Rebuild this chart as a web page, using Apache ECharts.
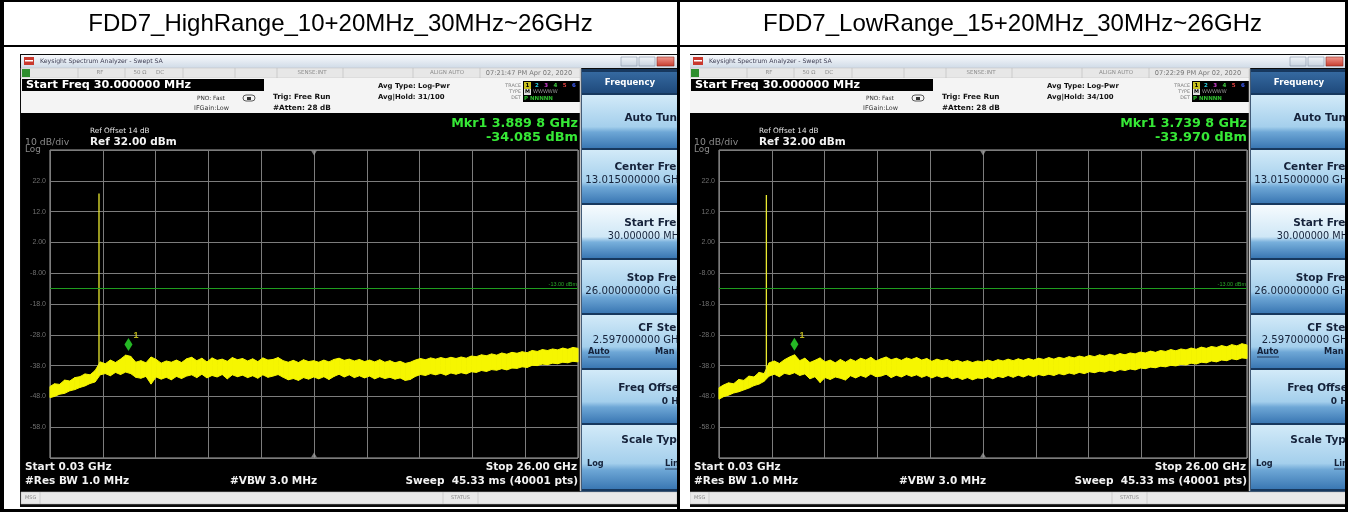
<!DOCTYPE html>
<html><head><meta charset="utf-8">
<script src="https://cdn.jsdelivr.net/npm/echarts/dist/echarts.min.js"></script>
<style>html,body{margin:0;padding:0;background:#fff}#c{width:1348px;height:512px}</style>
</head><body><div id="c"></div><script>
// ---------------- data ----------------
const titles = ['FDD7_HighRange_10+20MHz_30MHz~26GHz', 'FDD7_LowRange_15+20MHz_30MHz~26GHz'];
const timestamps = ['07:21:47 PM Apr 02, 2020', '07:22:29 PM Apr 02, 2020'];
const avgHold = ['Avg|Hold: 31/100', 'Avg|Hold: 34/100'];
const mkrFreqText = ['Mkr1 3.889 8 GHz', 'Mkr1 3.739 8 GHz'];
const mkrAmpText = ['-34.085 dBm', '-33.970 dBm'];
const markerGHz = [3.8898, 3.7398];
const markerDbm = [-34.085, -33.970];
const spikeGHz = [2.44, 2.36];
const spikeTopDbm = [17.9, 17.4];
const spikeBaseDbm = [-40.5, -41.0];
const displayLineDbm = -13;
const centerGHz = 13.015;
const startGHz = 0.03, stopGHz = 26;
const refDbm = 32, bottomDbm = -68;
const yTickValues = [22, 12, 2, -8, -18, -28, -38, -48, -58];
const yTickLabels = ['22.0', '12.0', '2.00', '-8.00', '-18.0', '-28.0', '-38.0', '-48.0', '-58.0'];

const freqGHz = [0.03,0.25,0.5,0.75,1,1.25,1.5,1.75,2,2.25,2.5,2.75,3,3.25,3.5,3.75,4,4.25,4.5,4.75,5,5.25,5.5,5.75,6,6.25,6.5,6.75,7,7.25,7.5,7.75,8,8.25,8.5,8.75,9,9.25,9.5,9.75,10,10.25,10.5,10.75,11,11.25,11.5,11.75,12,12.25,12.5,12.75,13,13.25,13.5,13.75,14,14.25,14.5,14.75,15,15.25,15.5,15.75,16,16.25,16.5,16.75,17,17.25,17.5,17.75,18,18.25,18.5,18.75,19,19.25,19.5,19.75,20,20.25,20.5,20.75,21,21.25,21.5,21.75,22,22.25,22.5,22.75,23,23.25,23.5,23.75,24,24.25,24.5,24.75,25,25.25,25.5,25.75,26];

const hiUpper = [-44.8,-43.9,-44.1,-42.7,-43.0,-41.9,-41.6,-40.7,-41.0,-39.6,-36.8,-37.4,-36.2,-37.0,-35.9,-34.6,-35.0,-36.9,-36.4,-37.1,-35.2,-36.0,-37.2,-36.5,-36.9,-36.2,-37.0,-35.8,-35.3,-36.4,-35.6,-36.8,-35.5,-36.3,-35.9,-36.6,-35.4,-36.1,-35.7,-36.5,-35.8,-36.7,-35.5,-36.2,-36.0,-35.4,-36.4,-36.9,-36.3,-37.0,-36.1,-36.7,-36.4,-36.9,-36.2,-36.8,-36.0,-35.6,-36.3,-35.9,-36.5,-36.0,-36.7,-36.2,-36.8,-36.1,-36.9,-36.4,-37.1,-36.6,-37.3,-36.9,-36.2,-35.7,-36.1,-35.5,-35.9,-35.4,-35.8,-35.3,-35.7,-35.2,-35.6,-34.9,-35.1,-34.5,-34.8,-34.2,-34.6,-33.9,-34.3,-33.7,-34.0,-33.5,-33.8,-33.1,-33.4,-32.8,-33.1,-32.6,-32.9,-32.3,-32.7,-32.1,-32.4];
const hiLower = [-48.4,-48.0,-47.3,-47.0,-46.2,-45.8,-45.1,-44.6,-43.8,-43.3,-41.0,-40.6,-41.3,-40.2,-40.9,-40.1,-40.6,-41.8,-42.1,-41.5,-44.0,-41.7,-42.4,-41.8,-42.6,-41.5,-42.2,-41.4,-41.0,-41.9,-40.8,-42.0,-41.2,-41.7,-40.9,-42.3,-41.0,-41.6,-41.1,-41.9,-41.3,-42.1,-41.0,-41.8,-41.4,-40.9,-41.8,-42.6,-42.2,-42.8,-41.9,-42.4,-41.7,-42.3,-41.6,-42.5,-41.5,-40.8,-41.7,-41.0,-41.9,-41.3,-42.0,-41.4,-42.3,-41.6,-42.2,-41.8,-42.4,-42.0,-42.8,-42.5,-41.5,-40.9,-41.2,-40.6,-41.0,-40.5,-41.1,-40.4,-40.8,-40.3,-40.7,-40.0,-40.2,-39.6,-39.9,-39.3,-39.5,-39.0,-39.4,-38.8,-38.9,-38.4,-38.6,-37.9,-38.0,-37.5,-37.7,-37.2,-37.4,-36.9,-37.1,-36.6,-36.8];

const loUpper = [-45.2,-44.3,-43.6,-43.9,-42.5,-42.8,-41.4,-41.7,-40.2,-40.6,-37.1,-36.5,-37.3,-36.1,-35.2,-34.5,-36.4,-35.6,-37.0,-36.3,-35.5,-36.8,-36.2,-37.1,-36.0,-36.9,-35.9,-36.6,-35.6,-36.2,-35.3,-36.5,-35.8,-35.2,-36.1,-35.6,-36.3,-35.5,-36.0,-35.4,-36.2,-35.7,-36.6,-35.9,-36.4,-36.0,-36.8,-36.3,-36.9,-36.4,-37.0,-36.5,-36.8,-36.2,-36.7,-36.1,-36.5,-35.9,-36.4,-35.8,-36.3,-35.7,-36.2,-35.6,-36.0,-35.4,-35.9,-35.3,-35.7,-35.1,-35.5,-34.9,-35.3,-34.7,-35.1,-34.5,-34.9,-34.3,-34.7,-34.1,-34.5,-33.9,-34.2,-33.6,-33.9,-33.3,-33.7,-33.1,-33.4,-32.8,-33.2,-32.6,-32.9,-32.3,-32.7,-32.0,-32.4,-31.8,-32.1,-31.5,-31.9,-31.2,-31.6,-30.9,-31.3];
const loLower = [-48.9,-48.1,-47.6,-46.9,-46.5,-45.9,-45.3,-44.5,-44.0,-43.1,-41.4,-40.8,-41.6,-40.5,-40.9,-40.3,-41.2,-40.7,-42.3,-41.6,-43.5,-41.9,-42.5,-41.7,-42.1,-42.7,-41.3,-42.0,-41.2,-41.8,-40.7,-41.6,-41.4,-40.8,-41.9,-41.1,-41.7,-40.9,-41.5,-41.0,-41.8,-41.2,-42.0,-41.3,-41.9,-41.4,-42.3,-41.8,-42.5,-41.9,-42.6,-42.0,-42.2,-41.6,-42.3,-41.5,-41.9,-41.2,-41.8,-41.1,-41.7,-41.0,-41.6,-40.9,-41.3,-40.8,-41.2,-40.6,-41.0,-40.4,-40.8,-40.2,-40.6,-40.0,-40.3,-39.8,-40.1,-39.5,-39.9,-39.3,-39.6,-39.1,-39.4,-38.8,-39.0,-38.5,-38.7,-38.2,-38.4,-37.9,-38.1,-37.6,-37.8,-37.2,-37.5,-36.9,-37.1,-36.5,-36.8,-36.2,-36.4,-35.8,-36.1,-35.5,-35.7];

const uppers = [hiUpper, loUpper];
const lowers = [hiLower, loLower];

// ---------------- helpers ----------------
const FONT = '"DejaVu Sans", Verdana, sans-serif';
const TFONT = '"Liberation Sans", Arial, sans-serif';
const PX = [0, 669]; // horizontal offset of each screenshot
function T(x, y, text, s, c, o) {
  o = o || {};
  return {type: 'text', x: x, y: y, z: o.z != null ? o.z : 20, silent: true,
    style: {text: text, fill: c, font: (o.b ? 'bold ' : '') + s + 'px ' + (o.f || FONT),
      align: o.a || 'left', verticalAlign: 'middle'}};
}
function R(x, y, w, h, fill, o) {
  o = o || {};
  return {type: 'rect', silent: true, z: o.z != null ? o.z : -10,
    shape: {x: x, y: y, width: w, height: h},
    style: {fill: fill, stroke: o.s || null, lineWidth: o.lw || 0}};
}
function L(x1, y1, x2, y2, c, w, z) {
  return {type: 'line', silent: true, z: z != null ? z : -9,
    shape: {x1: x1, y1: y1, x2: x2, y2: y2}, style: {stroke: c, lineWidth: w || 1}};
}
function G(stops) {
  return {type: 'linear', x: 0, y: 0, x2: 0, y2: 1,
    colorStops: stops.map(s => ({offset: s[0], color: s[1]}))};
}

function panelEls(i) {
  const o = PX[i];
  const e = [];
  // screenshot frame
  e.push(R(o + 20, 54, 658, 453, '#0b0b0b'));
  // window title bar
  e.push(R(o + 21, 55, 656, 13, G([[0, '#f7f9fc'], [1, '#d0dbe7']])));
  e.push(R(o + 24, 57, 10, 8, '#c9392e', {z: -9}));
  e.push(R(o + 25, 60, 8, 1.5, '#fff', {z: -8}));
  e.push(T(o + 40, 61.5, 'Keysight Spectrum Analyzer - Swept SA', 6.2, '#3c3c52'));
  e.push(R(o + 621, 57, 16, 9, G([[0, '#f2f5f9'], [1, '#c6d2df']]), {s: '#8796a8', lw: 0.6, z: -9}));
  e.push(R(o + 639, 57, 16, 9, G([[0, '#f2f5f9'], [1, '#c6d2df']]), {s: '#8796a8', lw: 0.6, z: -9}));
  e.push(R(o + 657, 57, 17, 9, G([[0, '#f29a90'], [1, '#c63a2c']]), {s: '#8a2a20', lw: 0.6, z: -9}));
  // status row
  e.push(R(o + 21, 68, 560, 10, '#e7e7e7', {s: '#bcbcbc', lw: 0.5}));
  e.push(R(o + 22, 69, 8, 8, '#2f8f2f', {z: -9}));
  [78, 125, 183, 235, 277, 343, 413, 480].forEach(x => e.push(L(o + x, 68, o + x, 78, '#b8b8b8', 0.6)));
  e.push(T(o + 100, 73, 'RF', 5.5, '#8d8d8d', {a: 'center'}));
  e.push(T(o + 140, 73, '50 Ω', 5.5, '#8d8d8d', {a: 'center'}));
  e.push(T(o + 160, 73, 'DC', 5.5, '#8d8d8d', {a: 'center'}));
  e.push(T(o + 312, 73, 'SENSE:INT', 5.5, '#8d8d8d', {a: 'center'}));
  e.push(T(o + 447, 73, 'ALIGN AUTO', 5.5, '#8d8d8d', {a: 'center'}));
  e.push(T(o + 529, 73, timestamps[i], 6.6, '#777', {a: 'center'}));
  // info panel
  e.push(R(o + 21, 78, 560, 35, '#f4f4f4'));
  e.push(R(o + 22, 79, 242, 12, '#000', {z: -9}));
  e.push(T(o + 26, 85, 'Start Freq 30.000000 MHz', 11.2, '#fff', {b: 1}));
  e.push(T(o + 197, 98, 'PNO: Fast', 5.8, '#333'));
  e.push(T(o + 194, 108, 'IFGain:Low', 6.4, '#333'));
  e.push({type: 'rect', silent: true, z: -8, shape: {x: o + 243, y: 95, width: 12, height: 6, r: 3}, style: {fill: 'none', stroke: '#333', lineWidth: 0.8}});
  e.push(R(o + 247, 97, 4, 3, '#333', {z: -7}));
  e.push(T(o + 273, 97, 'Trig: Free Run', 7.3, '#111', {b: 1}));
  e.push(T(o + 273, 108, '#Atten: 28 dB', 7.3, '#111', {b: 1}));
  e.push(T(o + 378, 86, 'Avg Type: Log-Pwr', 6.9, '#111', {b: 1}));
  e.push(T(o + 378, 97, avgHold[i], 6.9, '#111', {b: 1}));
  e.push(T(o + 521, 86, 'TRACE', 4.8, '#7a7a7a', {a: 'right'}));
  e.push(T(o + 521, 92, 'TYPE', 4.8, '#7a7a7a', {a: 'right'}));
  e.push(T(o + 521, 98, 'DET', 4.8, '#7a7a7a', {a: 'right'}));
  e.push(R(o + 523, 81, 57, 21, '#000', {z: -9}));
  e.push(R(o + 524, 82, 7, 7, '#c8c020', {z: -8}));
  const tc = ['#000', '#2ad0e0', '#d040d0', '#40d040', '#e04040', '#4060ff'];
  ['1', '2', '3', '4', '5', '6'].forEach((d, k) => e.push(T(o + 527.5 + k * 9.3, 85.8, d, 5.5, tc[k], {b: 1, a: 'center'})));
  e.push(R(o + 524, 89, 7, 6, '#e0e0e0', {z: -8}));
  e.push(T(o + 527.5, 92.2, 'M', 5, '#000', {b: 1, a: 'center'}));
  e.push(T(o + 533, 92.2, 'WWWWW', 5, '#9a9a9a'));
  e.push(T(o + 524, 98.5, 'P NNNNN', 5.5, '#30c030', {b: 1}));
  // display area
  e.push(R(o + 21, 113, 560, 378, '#000'));
  e.push(T(o + 90, 131, 'Ref Offset 14 dB', 7.3, '#e6e6e6'));
  e.push(T(o + 90, 142, 'Ref 32.00 dBm', 10.5, '#f2f2f2', {b: 1}));
  e.push(T(o + 25, 143, '10 dB/div', 9.3, '#8a8a8a'));
  e.push(T(o + 25, 150, 'Log', 8.8, '#8a8a8a'));
  e.push(T(o + 578, 124, mkrFreqText[i], 12.7, '#36e836', {b: 1, a: 'right'}));
  e.push(T(o + 578, 137.5, mkrAmpText[i], 12.9, '#36e836', {b: 1, a: 'right'}));
  e.push(T(o + 25, 467, 'Start 0.03 GHz', 10.5, '#f2f2f2', {b: 1}));
  e.push(T(o + 25, 481.5, '#Res BW 1.0 MHz', 10.5, '#f2f2f2', {b: 1}));
  e.push(T(o + 230, 481.5, '#VBW 3.0 MHz', 10.5, '#f2f2f2', {b: 1}));
  e.push(T(o + 577, 467, 'Stop 26.00 GHz', 10.5, '#f2f2f2', {b: 1, a: 'right'}));
  e.push(T(o + 578, 481.5, 'Sweep  45.33 ms (40001 pts)', 10.5, '#f2f2f2', {b: 1, a: 'right'}));
  // soft-key panel
  e.push(R(o + 580, 69, 98, 423, '#17385e'));
  e.push(L(o + 580.5, 69, o + 580.5, 491, '#c4c4c4', 1.5, -8));
  e.push(R(o + 582, 72, 96, 21, G([[0, '#3569a0'], [1, '#1f4a7c']]), {z: -9}));
  e.push(T(o + 630, 83, 'Frequency', 8.6, '#fff', {b: 1, a: 'center'}));
  const tops = [95, 150, 205, 260, 315, 370, 425];
  tops.forEach((t, k) => {
    const h = k === 6 ? 64 : 53;
    const active = k === 2;
    e.push(R(o + 582, t, 96, h, G(active
      ? [[0, '#f6fbfe'], [0.6, '#cfe7f6'], [0.7, '#78b0dc'], [1, '#3a77b3']]
      : [[0, '#d2eaf8'], [0.6, '#a4cfec'], [0.7, '#6ea7d6'], [1, '#3a77b3']]), {z: -9}));
  });
  const bc = '#15223a', rx = o + 684;
  e.push(T(rx, 118.5, 'Auto Tune', 10.5, bc, {b: 1, a: 'right'}));
  e.push(T(rx, 167, 'Center Freq', 10.5, bc, {b: 1, a: 'right'}));
  e.push(T(rx, 180, '13.015000000 GHz', 10.2, bc, {a: 'right'}));
  e.push(T(rx, 223, 'Start Freq', 10.5, bc, {b: 1, a: 'right'}));
  e.push(T(rx, 236, '30.000000 MHz', 9.7, bc, {a: 'right'}));
  e.push(T(rx, 278, 'Stop Freq', 10.5, bc, {b: 1, a: 'right'}));
  e.push(T(rx, 291, '26.000000000 GHz', 10.2, bc, {a: 'right'}));
  e.push(T(rx, 328, 'CF Step', 10.5, bc, {b: 1, a: 'right'}));
  e.push(T(rx, 340, '2.597000000 GHz', 10.1, bc, {a: 'right'}));
  e.push(T(o + 588, 352, 'Auto', 8.2, bc, {b: 1}));
  e.push(L(o + 588, 357, o + 610, 357, bc, 0.8, 21));
  e.push(T(o + 655, 352, 'Man', 8.2, bc, {b: 1}));
  e.push(T(rx, 388, 'Freq Offset', 10.5, bc, {b: 1, a: 'right'}));
  e.push(T(rx, 402, '0 Hz', 9, bc, {b: 1, a: 'right'}));
  e.push(T(rx, 440, 'Scale Type', 10.5, bc, {b: 1, a: 'right'}));
  e.push(T(o + 587, 464, 'Log', 8.2, bc, {b: 1}));
  e.push(T(o + 665, 464, 'Lin', 8.2, bc, {b: 1}));
  e.push(L(o + 665, 469, o + 682, 469, bc, 0.8, 21));
  // message bar
  e.push(R(o + 21, 492, 656, 12, '#e9e9e9', {s: '#b4b4b4', lw: 0.5}));
  e.push(T(o + 25, 498, 'MSG', 5, '#8a8a8a'));
  e.push(L(o + 40, 492, o + 40, 504, '#bdbdbd', 0.6));
  e.push(L(o + 443, 492, o + 443, 504, '#bdbdbd', 0.6));
  e.push(L(o + 478, 492, o + 478, 504, '#bdbdbd', 0.6));
  e.push(T(o + 460.5, 498, 'STATUS', 5, '#8a8a8a', {a: 'center'}));
  return e;
}

// table overlay (cell borders, titles)
const overlay = [
  R(680, 47, 10, 462, '#fff', {z: 100}),
  R(0, 0, 1348, 2, '#000', {z: 101}),
  R(0, 0, 4, 512, '#000', {z: 101}),
  R(677, 0, 3, 512, '#000', {z: 101}),
  R(1345, 0, 3, 512, '#000', {z: 101}),
  R(0, 45, 1348, 2, '#000', {z: 101}),
  R(0, 509, 1348, 3, '#000', {z: 101}),
  T(340.5, 24, titles[0], 24, '#000', {a: 'center', z: 102, f: TFONT}),
  T(1012.5, 24, titles[1], 24, '#000', {a: 'center', z: 102, f: TFONT})
];

// ---------------- chart ----------------
const grids = [], xAxes = [], yAxes = [], series = [];
const yellow = '#f6f600';
[0, 1].forEach(i => {
  const o = PX[i];
  grids.push({left: 50 + o, top: 150, width: 528, height: 308, show: true,
    borderColor: '#a9a9a9', borderWidth: 1, backgroundColor: 'transparent'});
  xAxes.push({type: 'value', gridIndex: i, min: startGHz, max: stopGHz, interval: (stopGHz - startGHz) / 10,
    axisLine: {show: false}, axisTick: {show: false}, axisLabel: {show: false},
    splitLine: {show: true, lineStyle: {color: '#7c7c7c', width: 1}}});
  yAxes.push({type: 'value', gridIndex: i, min: bottomDbm, max: refDbm, interval: 10,
    axisLine: {show: false}, axisTick: {show: false},
    axisLabel: {color: '#707070', fontSize: 7, margin: 4, fontFamily: TFONT,
      formatter: v => { const k = yTickValues.indexOf(Math.round(v)); return k >= 0 ? yTickLabels[k] : ''; }},
    splitLine: {show: true, lineStyle: {color: '#7c7c7c', width: 1}}});
  const up = uppers[i], lo = lowers[i];
  // noise band between lower and upper envelope
  series.push({type: 'custom', name: 'trace' + i, xAxisIndex: i, yAxisIndex: i, silent: true, z: 3,
    encode: {x: 0, y: [1, 2]},
    data: freqGHz.map((f, k) => [f, up[k], lo[k]]),
    renderItem: (params, api) => {
      const k = params.dataIndexInside;
      if (k + 1 >= freqGHz.length) return null;
      const a1 = api.coord([api.value(0, k), api.value(1, k)]);
      const b1 = api.coord([api.value(0, k + 1), api.value(1, k + 1)]);
      const b2 = api.coord([api.value(0, k + 1), api.value(2, k + 1)]);
      const a2 = api.coord([api.value(0, k), api.value(2, k)]);
      return {type: 'polygon', shape: {points: [a1, b1, b2, a2]},
        style: {fill: yellow, stroke: yellow, lineWidth: 1}};
    },
    markLine: {symbol: 'none', silent: true, data: [{yAxis: displayLineDbm}],
      lineStyle: {color: '#1f9d1f', width: 1, type: 'solid'},
      label: {show: true, position: 'insideEndTop', formatter: '-13.00 dBm', color: '#2aa82a', fontSize: 5.5, distance: 1}}});
  series.push({type: 'line', name: 'spike' + i, xAxisIndex: i, yAxisIndex: i,
    data: [[spikeGHz[i], spikeBaseDbm[i]], [spikeGHz[i], spikeTopDbm[i]]], symbol: 'none', silent: true,
    lineStyle: {color: '#eaea30', width: 1.3}, z: 4});
  series.push({type: 'scatter', name: 'marker' + i, xAxisIndex: i, yAxisIndex: i,
    data: [[markerGHz[i], markerDbm[i]]], symbol: 'diamond', symbolSize: [8, 13], symbolOffset: [0, -9],
    itemStyle: {color: '#2ee62e'}, silent: true, z: 10,
    label: {show: true, formatter: '1', position: [9, -7], color: '#e8e020', fontSize: 9, fontWeight: 'bold'}});
  series.push({type: 'scatter', name: 'center' + i, xAxisIndex: i, yAxisIndex: i, silent: true, z: 5,
    symbol: 'triangle', symbolSize: [6, 5], itemStyle: {color: '#9a9a9a'},
    data: [{value: [centerGHz, refDbm], symbolRotate: 180, symbolOffset: [0, 3]},
           {value: [centerGHz, bottomDbm], symbolOffset: [0, -3]}]});
});

const chart = echarts.init(document.getElementById('c'), null, {renderer: 'canvas'});
chart.setOption({
  animation: false,
  backgroundColor: '#fff',
  grid: grids, xAxis: xAxes, yAxis: yAxes, series: series,
  graphic: {elements: panelEls(0).concat(panelEls(1), overlay)}
});
</script></body></html>
